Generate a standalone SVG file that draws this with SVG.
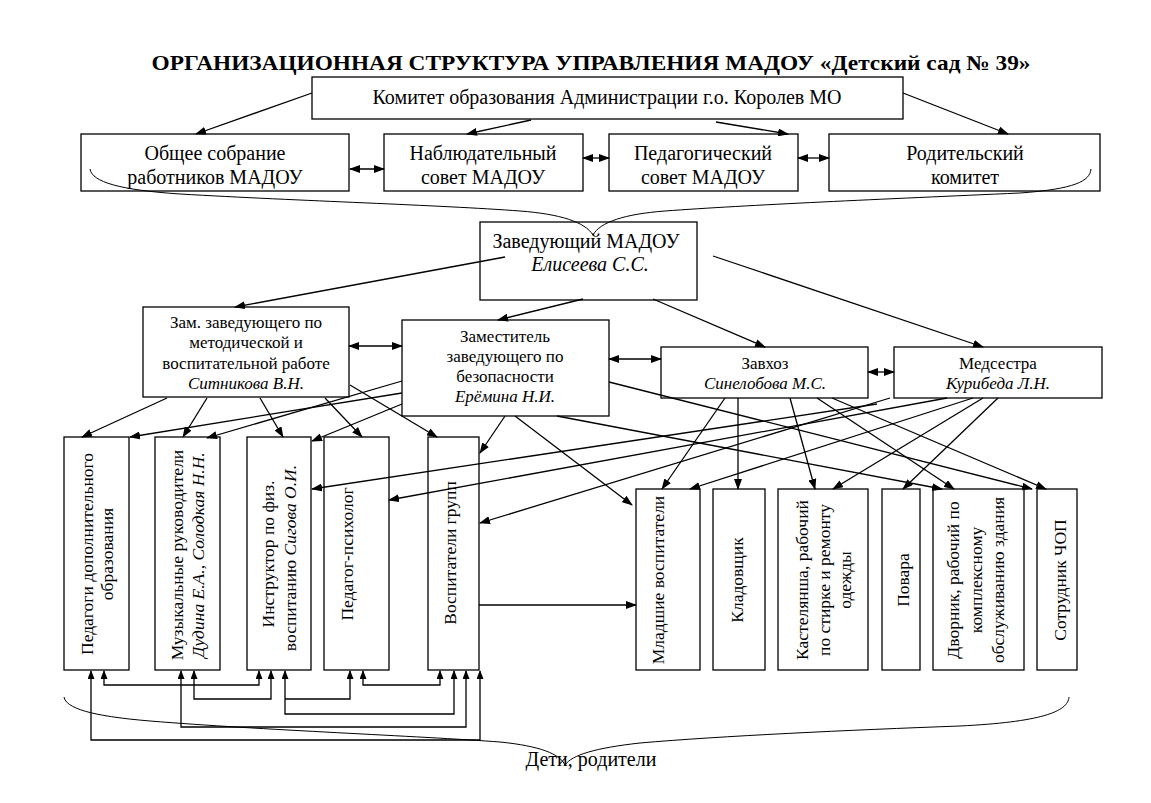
<svg xmlns="http://www.w3.org/2000/svg" width="1151" height="803" viewBox="0 0 1151 803">
<style>
.bx{fill:#fff;stroke:#000;stroke-width:1.3}
.t{font-family:"Liberation Serif","Times New Roman",serif;font-size:20px;text-anchor:middle;fill:#000}
.s{font-size:17px}
.v{font-size:17.5px}
.i{font-style:italic}
.c{fill:none;stroke:#000;stroke-width:1.3}
.a{marker-end:url(#ar)}
.d{marker-start:url(#ar);marker-end:url(#ar)}
.u{marker-end:url(#au)}
.ud{marker-start:url(#au);marker-end:url(#au)}
.br{fill:none;stroke:#000;stroke-width:1}
</style>
<defs>
<marker id="ar" markerUnits="userSpaceOnUse" markerWidth="11" markerHeight="8" refX="10" refY="4" orient="auto-start-reverse"><path d="M0,0 L11,4 L0,8 z" fill="#000"/></marker>
<marker id="au" markerUnits="userSpaceOnUse" markerWidth="9" markerHeight="7" refX="8" refY="3.5" orient="auto-start-reverse"><path d="M0,0 L9,3.5 L0,7 z" fill="#000"/></marker>
</defs>
<rect width="1151" height="803" fill="#fff"/>
<text x="591" y="70" class="t" style="font-weight:bold;font-size:21px" textLength="879" lengthAdjust="spacingAndGlyphs">ОРГАНИЗАЦИОННАЯ СТРУКТУРА УПРАВЛЕНИЯ МАДОУ «Детский сад № 39»</text>

<g id="komitet"><rect class="bx" x="312" y="77" width="591" height="42"/><text class="t" x="607" y="104">Комитет образования Администрации г.о. Королев МО</text></g>
<g id="obshee"><rect class="bx" x="81" y="134" width="268" height="57"/><text class="t" x="215" y="160">Общее собрание</text><text class="t" x="215" y="184">работников МАДОУ</text></g>
<g id="nabl"><rect class="bx" x="384" y="134" width="199" height="57"/><text class="t" x="483" y="160">Наблюдательный</text><text class="t" x="483" y="184">совет МАДОУ</text></g>
<g id="ped"><rect class="bx" x="609" y="134" width="189" height="57"/><text class="t" x="703" y="160">Педагогический</text><text class="t" x="703" y="184">совет МАДОУ</text></g>
<g id="rod"><rect class="bx" x="829" y="134" width="271" height="57"/><text class="t" x="965" y="160">Родительский</text><text class="t" x="965" y="184">комитет</text></g>
<g id="zav"><rect class="bx" x="480" y="222" width="217" height="78"/><text class="t" x="586" y="248">Заведующий МАДОУ</text><text class="t i" x="590" y="271">Елисеева С.С.</text></g>
<g id="zammet"><rect class="bx" x="143" y="307" width="206" height="90"/><text class="t s" x="246" y="328">Зам. заведующего по</text><text class="t s" x="246" y="348">методической и</text><text class="t s" x="246" y="369">воспитательной работе</text><text class="t s i" x="246" y="389">Ситникова В.Н.</text></g>
<g id="zambez"><rect class="bx" x="402" y="320" width="207" height="96"/><text class="t s" x="505" y="342">Заместитель</text><text class="t s" x="505" y="362">заведующего по</text><text class="t s" x="505" y="382">безопасности</text><text class="t s i" x="505" y="402">Ерёмина Н.И.</text></g>
<g id="zavhoz"><rect class="bx" x="661" y="347" width="207" height="51"/><text class="t s" x="765" y="369">Завхоз</text><text class="t s i" x="765" y="389">Синелобова М.С.</text></g>
<g id="medsestra"><rect class="bx" x="894" y="347" width="208" height="51"/><text class="t s" x="998" y="369">Медсестра</text><text class="t s i" x="998" y="389">Курибеда Л.Н.</text></g>

<g id="peddop"><rect class="bx" x="64" y="437" width="65" height="233"/><text class="t v" transform="translate(93,554) rotate(-90)">Педагоги дополнительного</text><text class="t v" transform="translate(113,554) rotate(-90)">образования</text></g>
<g id="muz"><rect class="bx" x="155" y="437" width="65" height="233"/><text class="t v" transform="translate(183,555) rotate(-90)">Музыкальные руководители</text><text class="t v i" transform="translate(204,555) rotate(-90)">Дудина Е.А.,  Солодкая Н.Н.</text></g>
<g id="instr"><rect class="bx" x="247" y="437" width="64" height="233"/><text class="t v" transform="translate(274,554) rotate(-90)">Инструктор по физ.</text><text class="t v" transform="translate(296,558) rotate(-90)">воспитанию <tspan class="i">Сигова О.И.</tspan></text></g>
<g id="psih"><rect class="bx" x="324" y="437" width="65" height="233"/><text class="t v" transform="translate(353,554) rotate(-90)">Педагог-психолог</text></g>
<g id="vosp"><rect class="bx" x="428" y="437" width="51" height="233"/><text class="t v" transform="translate(456,553) rotate(-90)">Воспитатели групп</text></g>
<g id="mlad"><rect class="bx" x="636" y="489" width="64" height="181"/><text class="t v" transform="translate(664,580) rotate(-90)">Младшие воспитатели</text></g>
<g id="klad"><rect class="bx" x="713" y="489" width="52" height="181"/><text class="t v" transform="translate(743,580) rotate(-90)">Кладовщик</text></g>
<g id="kast"><rect class="bx" x="778" y="489" width="90" height="181"/><text class="t v" transform="translate(808,580) rotate(-90)">Кастелянша, рабочий</text><text class="t v" transform="translate(830,580) rotate(-90)">по стирке и ремонту</text><text class="t v" transform="translate(851,580) rotate(-90)">одежды</text></g>
<g id="povara"><rect class="bx" x="882" y="489" width="38" height="181"/><text class="t v" transform="translate(909,580) rotate(-90)">Повара</text></g>
<g id="dvornik"><rect class="bx" x="933" y="489" width="91" height="181"/><text class="t v" transform="translate(959,580) rotate(-90)">Дворник, рабочий по</text><text class="t v" transform="translate(982,580) rotate(-90)">комплексному</text><text class="t v" transform="translate(1004,580) rotate(-90)">обслуживанию здания</text></g>
<g id="chop"><rect class="bx" x="1037" y="489" width="40" height="181"/><text class="t v" transform="translate(1066,580) rotate(-90)">Сотрудник ЧОП</text></g>
<g id="deti"><text class="t" x="591" y="766">Дети, родители</text></g>

<g id="connectors">
<path class="c a" d="M312,93 L196,134"/>
<path class="c a" d="M531,120 L467,134"/>
<path class="c a" d="M716,122 L788,134"/>
<path class="c a" d="M903,93 L1008,134"/>
<path class="c d" d="M350,169 H384"/>
<path class="c d" d="M583,158 H609"/>
<path class="c d" d="M798,158 H829"/>
<path class="c a" d="M505,257 L235,307"/>
<path class="c a" d="M583,299 L498,320"/>
<path class="c a" d="M653,299 L765,347"/>
<path class="c a" d="M713,256 L983,347"/>
<path class="c d" d="M349,346 H402"/>
<path class="c d" d="M609,359 H661"/>
<path class="c d" d="M868,372 H894"/>
<path class="c a" d="M167,398 L82,437"/>
<path class="c a" d="M207,398 L183,437"/>
<path class="c a" d="M260,398 L283,437"/>
<path class="c a" d="M325,398 L362,437"/>
<path class="c a" d="M350,385 L437,437"/>
<path class="c a" d="M402,381 L207,438"/>
<path class="c a" d="M402,393 L130,437"/>
<path class="c a" d="M402,404 L312,441"/>
<path class="c a" d="M505,416 L480,453"/>
<path class="c a" d="M515,416 L632,505"/>
<path class="c a" d="M557,416 L942,489"/>
<path class="c a" d="M609,382 L1032,489"/>
<path class="c a" d="M725,398 L662,489"/>
<path class="c a" d="M738,398 L738,489"/>
<path class="c a" d="M790,398 L815,489"/>
<path class="c a" d="M817,398 L954,489"/>
<path class="c a" d="M832,398 L1046,489"/>
<path class="c a" d="M877,404 L312,489"/>
<path class="c a" d="M890,398 L480,523"/>
<path class="c a" d="M947,398 L389,500"/>
<path class="c a" d="M973,398 L690,489"/>
<path class="c a" d="M983,398 L833,489"/>
<path class="c a" d="M998,398 L903,489"/>
<path class="c a" d="M479,605 H636"/>
<path class="c ud" d="M104,671 V685 H259 V671"/>
<path class="c ud" d="M194,671 V699 H271 V671"/>
<path class="c ud" d="M285,671 V714 H454 V671"/>
<path class="c u" d="M285,699 H350 V671"/>
<path class="c ud" d="M363,671 V685 H440 V671"/>
<path class="c ud" d="M181,671 V727 H466 V671"/>
<path class="c ud" d="M91,671 V740 H480 V671"/>
<path class="br" d="M90,169 C92,182 120,190 180,194 C300,201 440,205 520,211 C560,214 585,222 593,235 C600,222 625,214 665,211 C745,205 885,199 1020,193 C1075,189 1090,181 1091,169"/>
<path class="br" d="M64,697 C66,708 90,716 150,721 C260,730 420,736 500,742 C540,746 560,754 565,765 C572,755 595,748 640,743 C720,736 850,730 960,726 C1040,722 1068,712 1069,697"/>
</g>
</svg>
